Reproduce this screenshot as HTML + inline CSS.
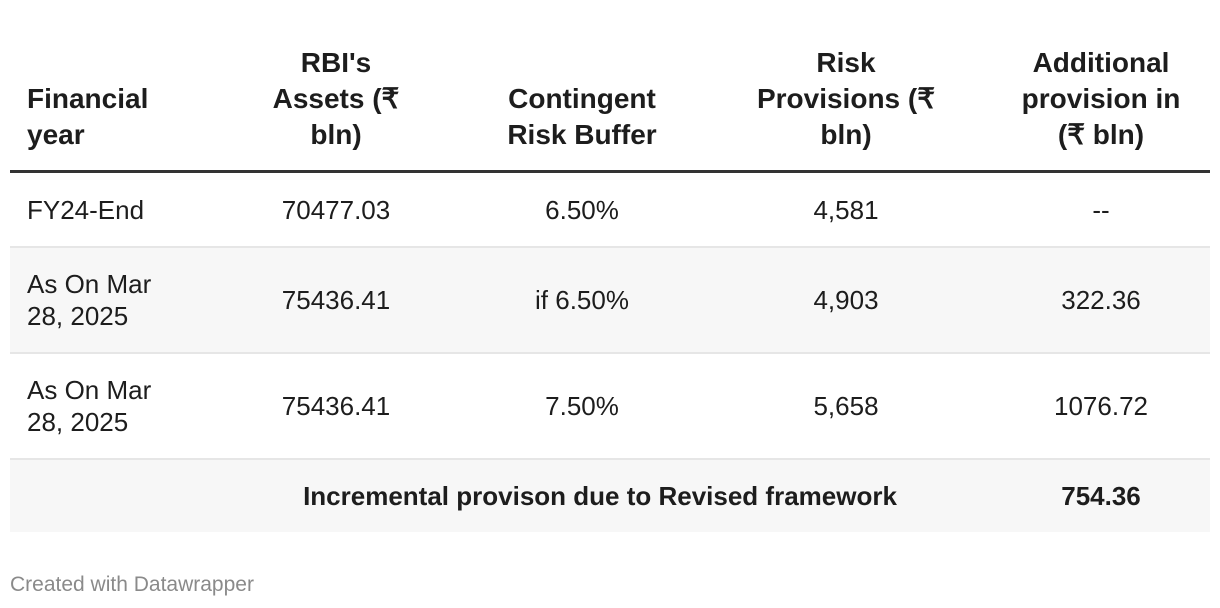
<!DOCTYPE html>
<html><head><meta charset="utf-8"><style>
body{margin:0;width:1220px;height:608px;background:#fff;font-family:"Liberation Sans",sans-serif;color:#1d1d1d;position:relative;overflow:hidden}
.c{position:absolute;text-align:center;transform:translateX(-50%);white-space:nowrap}
.l{position:absolute;white-space:nowrap}
.h{font-weight:bold;font-size:28px;line-height:36px}
.b{font-size:26px;line-height:32px}
.row{position:absolute;left:10px;width:1200px}
</style></head><body>
<div>
<div class="l h" style="left:27px;top:81px">Financial<br>year</div>
<div class="c h" style="left:336px;top:45px">RBI's<br>Assets (₹<br>bln)</div>
<div class="c h" style="left:582px;top:81px">Contingent<br>Risk Buffer</div>
<div class="c h" style="left:846px;top:45px">Risk<br>Provisions (₹<br>bln)</div>
<div class="c h" style="left:1101px;top:45px">Additional<br>provision in<br>(₹ bln)</div>
<div class="row" style="top:170px;height:3px;background:#333"></div>

<div class="row" style="top:173px;height:73px;border-bottom:2px solid #e6e6e6"></div>
<div class="row" style="top:248px;height:104px;background:#f7f7f7;border-bottom:2px solid #e6e6e6"></div>
<div class="row" style="top:354px;height:104px;border-bottom:2px solid #e6e6e6"></div>
<div class="row" style="top:460px;height:72px;background:#f7f7f7"></div>

<div class="l b" style="left:27px;top:194px">FY24-End</div>
<div class="c b" style="left:336px;top:194px">70477.03</div>
<div class="c b" style="left:582px;top:194px">6.50%</div>
<div class="c b" style="left:846px;top:194px">4,581</div>
<div class="c b" style="left:1101px;top:194px">--</div>

<div class="l b" style="left:27px;top:268px">As On Mar<br>28, 2025</div>
<div class="c b" style="left:336px;top:284px">75436.41</div>
<div class="c b" style="left:582px;top:284px">if 6.50%</div>
<div class="c b" style="left:846px;top:284px">4,903</div>
<div class="c b" style="left:1101px;top:284px">322.36</div>

<div class="l b" style="left:27px;top:374px">As On Mar<br>28, 2025</div>
<div class="c b" style="left:336px;top:390px">75436.41</div>
<div class="c b" style="left:582px;top:390px">7.50%</div>
<div class="c b" style="left:846px;top:390px">5,658</div>
<div class="c b" style="left:1101px;top:390px">1076.72</div>

<div class="c b" style="left:600px;top:480px;font-weight:bold;font-size:26px">Incremental provison due to Revised framework</div>
<div class="c b" style="left:1101px;top:480px;font-weight:bold">754.36</div>
</div>
<div class="l" style="left:10px;top:573px;font-size:21px;color:#8a8a8a">Created with Datawrapper</div>
</body></html>
